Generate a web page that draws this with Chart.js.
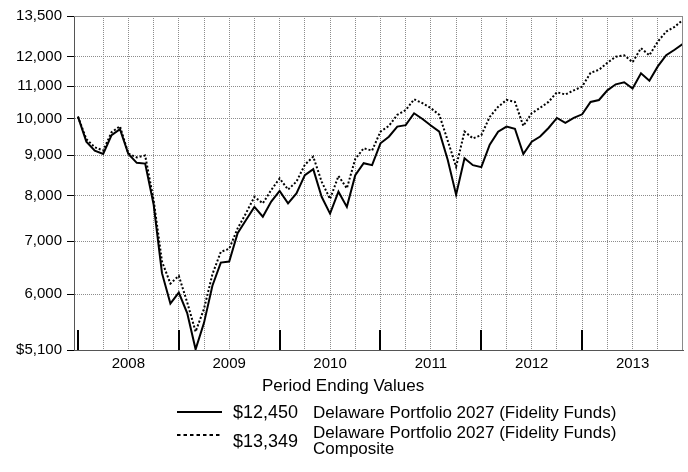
<!DOCTYPE html>
<html><head><meta charset="utf-8">
<script src="https://cdn.jsdelivr.net/npm/chart.js@4/dist/chart.umd.min.js"></script>
<style>
html,body{margin:0;padding:0;background:#fff;}
#wrap{position:relative;width:688px;height:472px;font-family:"Liberation Sans",Arial,sans-serif;color:#000;overflow:hidden;}
canvas{position:absolute;left:0;top:0;}
.t{position:absolute;font-size:17px;white-space:nowrap;line-height:17px;}
.d{font-size:18px;line-height:18px;}
svg{position:absolute;}
</style></head><body>
<div id="wrap">
<canvas id="c" width="688" height="472"></canvas>
<div class="t" style="left:262px;top:377px;">Period Ending Values</div>
<svg style="left:176px;top:405px" width="50" height="14"><line x1="1" y1="7" x2="46" y2="7" stroke="#000" stroke-width="2"/></svg>
<div class="t d" style="left:233px;top:403px;">$12,450</div>
<div class="t" style="left:313px;top:404px;">Delaware Portfolio 2027 (Fidelity Funds)</div>
<svg style="left:176px;top:428px" width="50" height="14"><line x1="1" y1="7" x2="46" y2="7" stroke="#000" stroke-width="2" stroke-dasharray="3.5,3"/></svg>
<div class="t d" style="left:233px;top:432px;">$13,349</div>
<div class="t" style="left:313px;top:425px;line-height:16px;">Delaware Portfolio 2027 (Fidelity Funds)<br>Composite</div>
</div>
<script>
// Month index 0 = Dec 2007 ... 72 = Dec 2013
const years = ['2008','2009','2010','2011','2012','2013'];
const yTicks = [5100, 6000, 7000, 8000, 9000, 10000, 11000, 12000, 13500];
const fundName = 'Delaware Portfolio 2027 (Fidelity Funds)';
const compName = 'Delaware Portfolio 2027 (Fidelity Funds) Composite';
const fundValues = [
  10070, 9360, 9120, 9030, 9540, 9710, 9030, 8800, 8780, 7800, 6380, 5840,
  6030, 5680, 5110, 5520, 6150, 6580, 6600, 7170, 7450, 7740, 7520, 7860,
  8110, 7820, 8050, 8490, 8640, 7970, 7590, 8090, 7740, 8490, 8790, 8740,
  9315, 9496, 9780, 9820, 10167, 10000, 9810, 9635, 8880, 8020, 8917, 8740,
  8690, 9280, 9636, 9780, 9720, 9030, 9360, 9500, 9740, 10030, 9890, 10030,
  10137, 10510, 10568, 10870, 11063, 11130, 10930, 11424, 11180, 11655, 12040, 12235,
  12450
];
const compValues = [
  10070, 9430, 9210, 9120, 9620, 9790, 9040, 8940, 8990, 7900, 6600, 6190,
  6330, 5860, 5380, 5750, 6360, 6790, 6850, 7270, 7600, 7970, 7820, 8130,
  8410, 8140, 8330, 8750, 8960, 8330, 7920, 8470, 8170, 8900, 9180, 9120,
  9640, 9800, 10120, 10260, 10590, 10470, 10320, 10120, 9390, 8700, 9640, 9450,
  9540, 10060, 10360, 10570, 10510, 9800, 10170, 10330, 10510, 10810, 10740, 10870,
  10990, 11440, 11540, 11780, 11990, 12040, 11800, 12290, 12040, 12530, 12900, 13080,
  13349
];

const toXY = arr => arr.map((v, i) => ({x: i, y: v}));

const framePlugin = {
  id: 'frame',
  afterDatasetsDraw(chart) {
    const {ctx, chartArea: a, scales: {x}} = chart;
    ctx.save();
    ctx.strokeStyle = '#8a8a8a';
    ctx.lineWidth = 1;
    ctx.beginPath();
    ctx.moveTo(a.left, Math.round(a.top) + 0.5);
    ctx.lineTo(a.right, Math.round(a.top) + 0.5);
    ctx.moveTo(Math.round(a.right) - 0.5, a.top);
    ctx.lineTo(Math.round(a.right) - 0.5, a.bottom);
    ctx.stroke();
    ctx.strokeStyle = '#000';
    ctx.lineWidth = 2;
    ctx.beginPath();
    for (let k = 0; k < years.length; k++) {
      const px = Math.round(x.getPixelForValue(k * 12));
      ctx.moveTo(px, a.bottom);
      ctx.lineTo(px, a.bottom - 20);
    }
    ctx.stroke();
    ctx.restore();
  }
};

new Chart(document.getElementById('c'), {
  type: 'line',
  data: {
    datasets: [
      {label: fundName, data: toXY(fundValues), borderColor: '#000', borderWidth: 2, pointRadius: 0, tension: 0, fill: false},
      {label: compName, data: toXY(compValues), borderColor: '#000', borderWidth: 2, borderDash: [2, 2], pointRadius: 0, tension: 0, fill: false}
    ]
  },
  options: {
    responsive: false,
    animation: false,
    events: [],
    layout: {padding: {top: 16, right: 5, left: 0, bottom: 0}},
    plugins: {legend: {display: false}, tooltip: {enabled: false}, title: {display: false}},
    scales: {
      x: {
        type: 'linear',
        min: -0.47,
        max: 72,
        afterBuildTicks: s => { const t = []; for (let v = 0; v <= 72; v += 3) t.push({value: v}); s.ticks = t; },
        afterFit: s => { s.height = 122; },
        ticks: {
          autoSkip: false, maxRotation: 0, padding: 5, color: '#000',
          font: {family: '"Liberation Sans", Arial, sans-serif', size: 15},
          callback: v => (v % 12 === 6 ? years[(v - 6) / 12] : '')
        },
        grid: {color: ctx => (ctx.tick && (ctx.tick.value === 0 || ctx.tick.value === 72)) ? 'rgba(0,0,0,0)' : '#8c8c8c', drawTicks: false, lineWidth: 1},
        border: {display: true, color: '#555', width: 1, dash: [1, 1]}
      },
      y: {
        type: 'logarithmic',
        min: 5100,
        max: 13500,
        afterBuildTicks: s => { s.ticks = yTicks.map(v => ({value: v})); },
        afterFit: s => { s.width = 74; },
        ticks: {
          autoSkip: false, padding: 5, color: '#000',
          font: {family: '"Liberation Sans", Arial, sans-serif', size: 15},
          callback: v => (v === yTicks[0] ? '$' : '') + Number(v).toLocaleString('en-US')
        },
        grid: {
          color: ctx => (ctx.tick && (ctx.tick.value === 5100 || ctx.tick.value === 13500)) ? 'rgba(0,0,0,0)' : '#8c8c8c',
          tickColor: '#000', tickLength: 7, drawTicks: true, lineWidth: 1, tickBorderDash: []
        },
        border: {display: true, color: '#555', width: 1, dash: [1, 1]}
      }
    }
  },
  plugins: [framePlugin]
});
</script>
</body></html>
